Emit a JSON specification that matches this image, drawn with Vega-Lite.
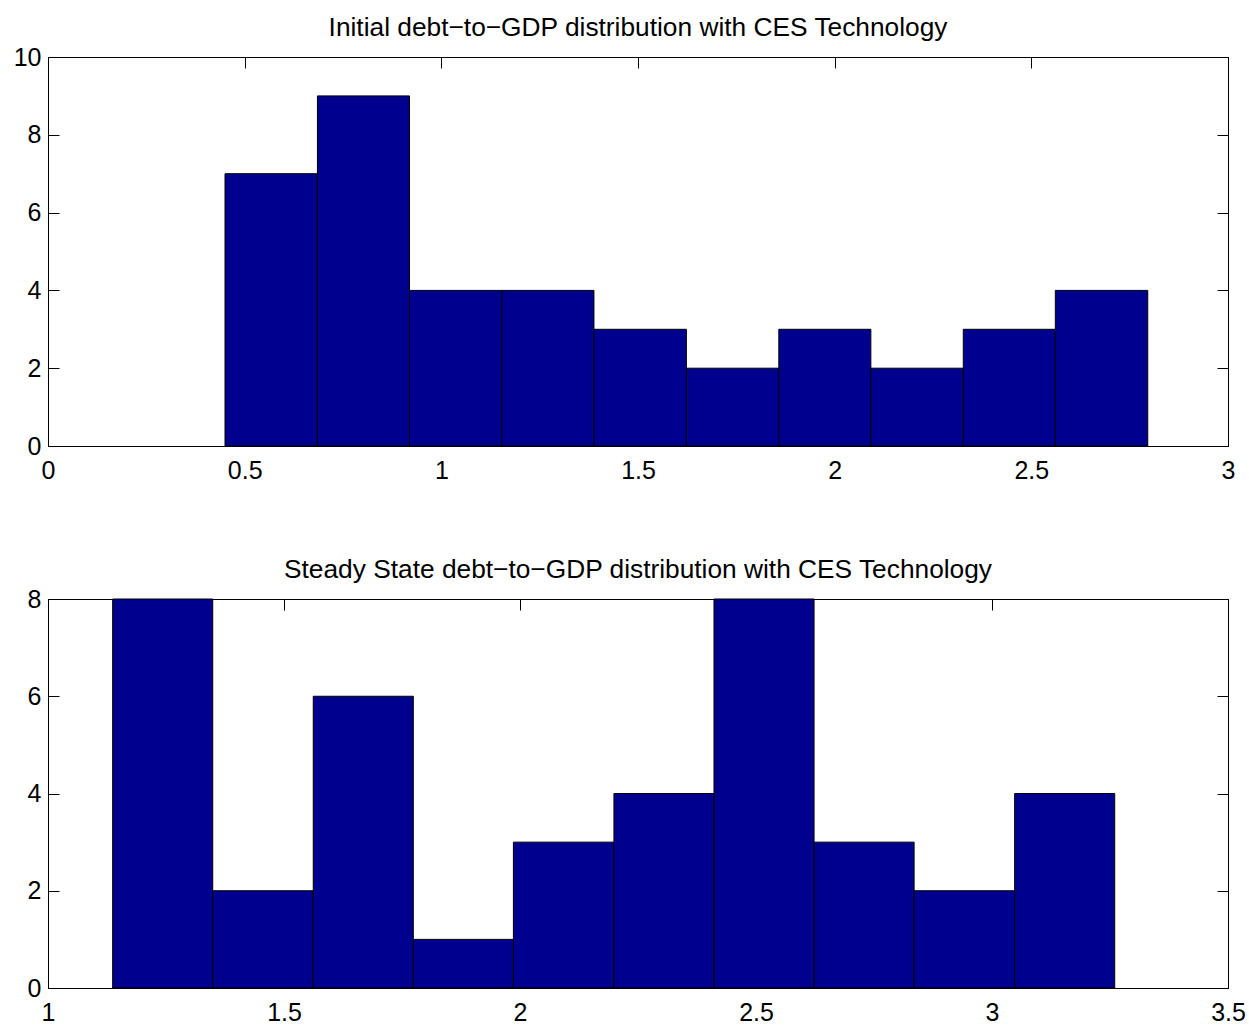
{
  "$schema": "https://vega.github.io/schema/vega-lite/v6.json",
  "background": "white",
  "padding": {"left": 12, "top": 14, "right": 5, "bottom": 2},
  "spacing": 153,
  "bounds": "flush",
  "datasets": {
    "initial": [
      {"lo": 0.450, "hi": 0.685, "count": 7},
      {"lo": 0.685, "hi": 0.919, "count": 9},
      {"lo": 0.919, "hi": 1.154, "count": 4},
      {"lo": 1.154, "hi": 1.388, "count": 4},
      {"lo": 1.388, "hi": 1.623, "count": 3},
      {"lo": 1.623, "hi": 1.858, "count": 2},
      {"lo": 1.858, "hi": 2.092, "count": 3},
      {"lo": 2.092, "hi": 2.327, "count": 2},
      {"lo": 2.327, "hi": 2.561, "count": 3},
      {"lo": 2.561, "hi": 2.796, "count": 4}
    ],
    "steady": [
      {"lo": 1.137, "hi": 1.349, "count": 8},
      {"lo": 1.349, "hi": 1.562, "count": 2},
      {"lo": 1.562, "hi": 1.774, "count": 6},
      {"lo": 1.774, "hi": 1.986, "count": 1},
      {"lo": 1.986, "hi": 2.199, "count": 3},
      {"lo": 2.199, "hi": 2.411, "count": 4},
      {"lo": 2.411, "hi": 2.623, "count": 8},
      {"lo": 2.623, "hi": 2.835, "count": 3},
      {"lo": 2.835, "hi": 3.048, "count": 2},
      {"lo": 3.048, "hi": 3.260, "count": 4}
    ]
  },
  "vconcat": [
    {
      "title": "Initial debt−to−GDP distribution with CES Technology",
      "width": 1180,
      "height": 389,
      "data": {"name": "initial"},
      "layer": [
        {
          "mark": {"type": "bar", "color": "#00008F", "stroke": "black", "strokeWidth": 1},
          "encoding": {
            "x": {"field": "lo", "type": "quantitative", "scale": {"domain": [0, 3], "nice": false, "zero": false},
                  "axis": {"orient": "bottom", "values": [0, 0.5, 1, 1.5, 2, 2.5, 3], "title": null, "format": "~g"}},
            "x2": {"field": "hi"},
            "y": {"field": "count", "type": "quantitative", "scale": {"domain": [0, 10], "nice": false},
                  "axis": {"orient": "left", "values": [0, 2, 4, 6, 8, 10], "title": null}},
            "y2": {"datum": 0}
          }
        },
        {
          "mark": {"type": "bar", "opacity": 0},
          "encoding": {
            "x": {"field": "lo", "type": "quantitative",
                  "axis": {"orient": "top", "values": [0, 0.5, 1, 1.5, 2, 2.5, 3], "labels": false, "title": null}},
            "x2": {"field": "hi"},
            "y": {"field": "count", "type": "quantitative",
                  "axis": {"orient": "right", "values": [0, 2, 4, 6, 8, 10], "labels": false, "title": null}},
            "y2": {"datum": 0}
          }
        }
      ],
      "resolve": {"axis": {"x": "independent", "y": "independent"}}
    },
    {
      "title": "Steady State debt−to−GDP distribution with CES Technology",
      "width": 1180,
      "height": 389,
      "data": {"name": "steady"},
      "layer": [
        {
          "mark": {"type": "bar", "color": "#00008F", "stroke": "black", "strokeWidth": 1},
          "encoding": {
            "x": {"field": "lo", "type": "quantitative", "scale": {"domain": [1, 3.5], "nice": false, "zero": false},
                  "axis": {"orient": "bottom", "values": [1, 1.5, 2, 2.5, 3, 3.5], "title": null, "format": "~g"}},
            "x2": {"field": "hi"},
            "y": {"field": "count", "type": "quantitative", "scale": {"domain": [0, 8], "nice": false},
                  "axis": {"orient": "left", "values": [0, 2, 4, 6, 8], "title": null}},
            "y2": {"datum": 0}
          }
        },
        {
          "mark": {"type": "bar", "opacity": 0},
          "encoding": {
            "x": {"field": "lo", "type": "quantitative",
                  "axis": {"orient": "top", "values": [1, 1.5, 2, 2.5, 3, 3.5], "labels": false, "title": null}},
            "x2": {"field": "hi"},
            "y": {"field": "count", "type": "quantitative",
                  "axis": {"orient": "right", "values": [0, 2, 4, 6, 8], "labels": false, "title": null}},
            "y2": {"datum": 0}
          }
        }
      ],
      "resolve": {"axis": {"x": "independent", "y": "independent"}}
    }
  ],
  "config": {
    "font": "Liberation Sans",
    "view": {"stroke": "black", "strokeWidth": 1},
    "title": {"font": "Liberation Sans", "fontSize": 26.3, "fontWeight": "normal", "color": "black", "baseline": "alphabetic", "offset": 4, "anchor": "middle"},
    "axis": {
      "grid": false,
      "domainColor": "black",
      "domainWidth": 1,
      "tickColor": "black",
      "tickWidth": 1,
      "tickSize": -11,
      "labelFont": "Liberation Sans",
      "labelFontSize": 25,
      "labelColor": "black",
      "labelFlush": false,
      "labelOverlap": false
    },
    "axisX": {"labelPadding": 23},
    "axisY": {"labelPadding": 18}
  }
}
